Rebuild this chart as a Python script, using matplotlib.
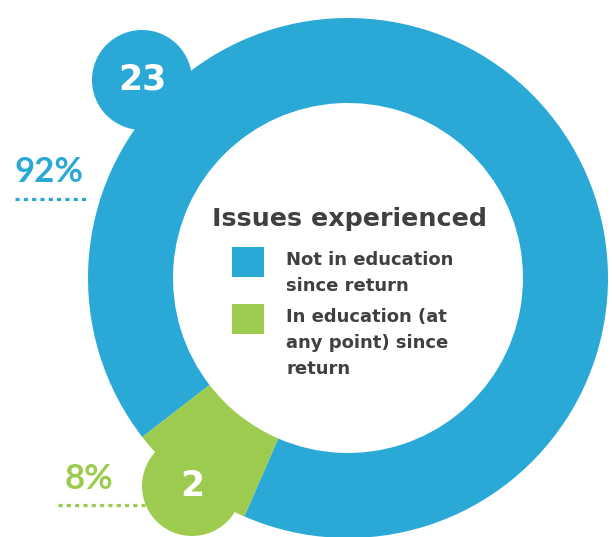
import matplotlib
matplotlib.use("Agg")
import matplotlib.pyplot as plt
from matplotlib.patches import Circle, Rectangle

# ---- data ----
categories = ["Not in education\nsince return", "In education (at\nany point) since\nreturn"]
counts = [23, 2]
percent_labels = ["92%", "8%"]
colors = ["#2aa8d6", "#9dcb4f"]
title = "Issues experienced"

W, H = 612, 537
fig = plt.figure(figsize=(W / 100, H / 100), dpi=100)
ax = fig.add_axes([0, 0, 1, 1])

def Y(y):  # image-row -> data y
    return H - y

cx, cy = 348, Y(278)
R, ring = 260, 85

wedges, _ = ax.pie(counts, colors=colors, startangle=217.7, counterclock=False,
                   center=(cx, cy), radius=R,
                   wedgeprops=dict(width=ring, linewidth=0))
for w in wedges:
    w.set_zorder(2)

ax.set_xlim(0, W)
ax.set_ylim(0, H)
ax.set_aspect("equal")
ax.axis("off")

# bubbles with counts
bubbles = [(142, 80), (192, 486)]
for (bx, by), col, n in zip(bubbles, colors, counts):
    ax.add_patch(Circle((bx, Y(by)), 50, color=col, zorder=1, linewidth=0))
    ax.text(bx, Y(by), str(n), color="white", fontsize=25, fontweight="bold",
            family="DejaVu Sans", ha="center", va="center", zorder=5)

# percent labels with dotted leaders
pct_pos = [(49, 172), (89, 479)]
lines = [((15, 87), 199), ((58, 145), 505)]
for (px, py), ((x0, x1), ly), col, lab in zip(pct_pos, lines, colors, percent_labels):
    ax.text(px, Y(py), lab, color=col, fontsize=25, fontweight="bold",
            family="Lato", ha="center", va="center", zorder=5)
    ax.plot([x0, x1], [Y(ly), Y(ly)], color=col, lw=2.3,
            linestyle=(0, (1.3, 1.3)), solid_capstyle="butt", zorder=5)

# center title and legend
text_col = "#404040"
ax.text(349, Y(219), title, color=text_col, fontsize=18.3, fontweight="bold",
        family="DejaVu Sans", ha="center", va="center", zorder=5)

sq_tops = [247, 304]
for top, col, lab in zip(sq_tops, colors, categories):
    ax.add_patch(Rectangle((232, Y(top + 30)), 32, 30, color=col, linewidth=0, zorder=5))
    for i, line in enumerate(lab.split("\n")):
        ax.text(286, Y(top + 13 + i * 26), line, color=text_col, fontsize=13,
                fontweight="bold", family="DejaVu Sans", ha="left", va="center", zorder=5)

fig.savefig("out.png", dpi=100)
